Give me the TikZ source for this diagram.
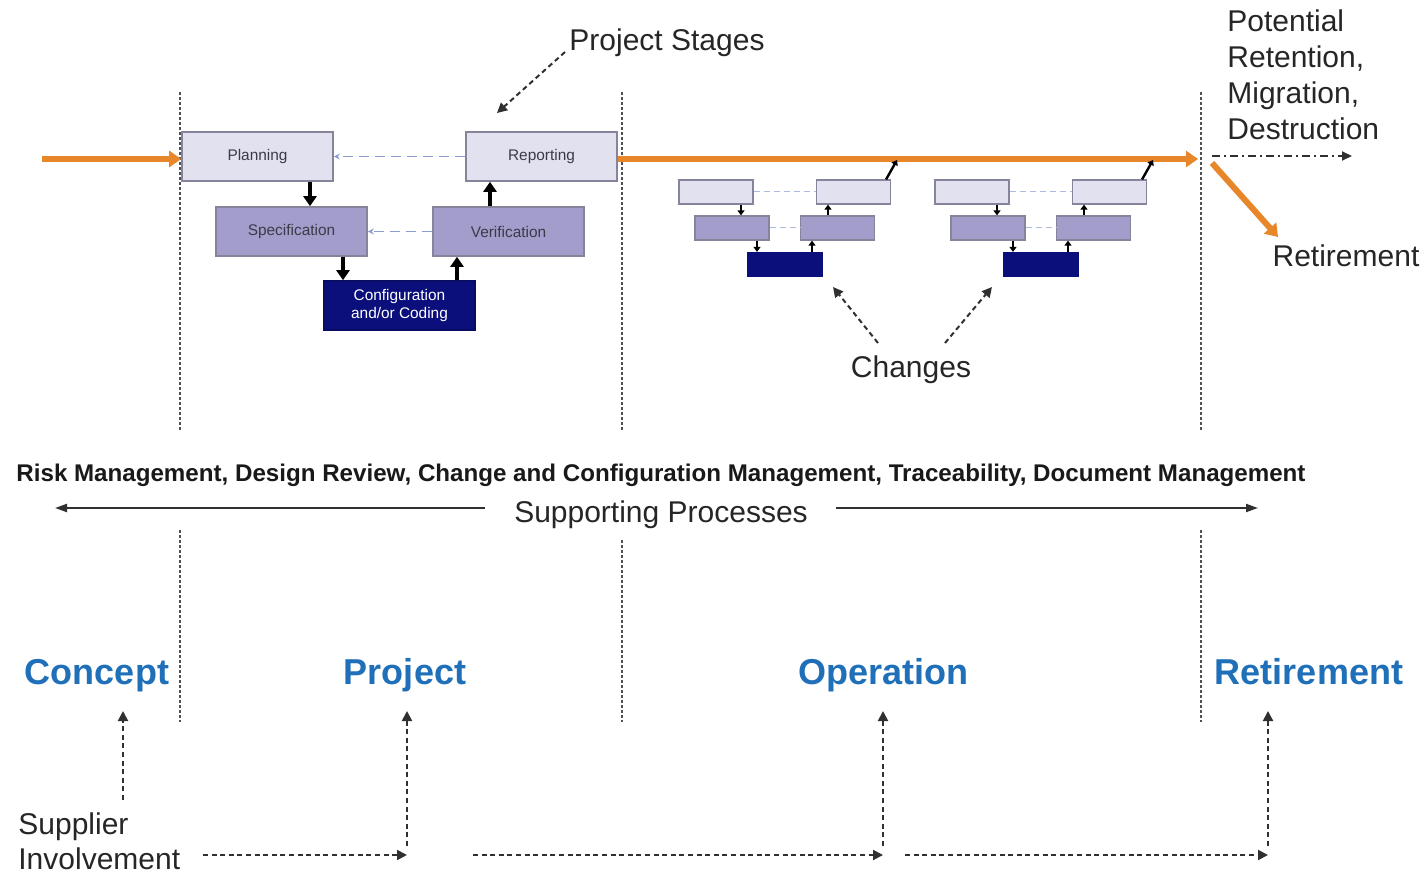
\documentclass[tikz,border=0pt]{standalone}
\usepackage{fontspec}
\setmainfont{Liberation Sans}
\usetikzlibrary{arrows.meta,calc}
\definecolor{orng}{HTML}{E8872A}
\definecolor{lightfill}{HTML}{E2E1EF}
\definecolor{midfill}{HTML}{A39DCB}
\definecolor{navyfill}{HTML}{0B0F7C}
\definecolor{boxgray}{HTML}{85849A}
\definecolor{textgray}{HTML}{3A3A4A}
\definecolor{dashblue}{HTML}{8C9BD2}
\definecolor{divgray}{HTML}{505050}
\definecolor{dkgray}{HTML}{303030}
\definecolor{stageblue}{HTML}{1F70B8}
\begin{document}
\begin{tikzpicture}[x=0.5pt,y=-0.5pt,
  bigbox/.style={draw=boxgray, line width=0.8pt, minimum width=75.5pt, minimum height=24.5pt, inner sep=0pt, font=\fontsize{7.7}{9}\selectfont, text=textgray, align=center},
  lightbox/.style={bigbox, fill=lightfill},
  midbox/.style={bigbox, fill=midfill},
  navybox/.style={bigbox, fill=navyfill, draw=navyfill!80!black, text=white},
  smallbox/.style={draw=boxgray, line width=0.6pt, minimum width=37pt, minimum height=12pt, inner sep=0pt},
  slight/.style={smallbox, fill=lightfill},
  smid/.style={smallbox, fill=midfill},
  snavy/.style={smallbox, fill=navyfill, draw=navyfill},
  thickarr/.style={draw=black, line width=1.8pt, -{Triangle[length=5pt,width=6.5pt]}},
  smallarr/.style={draw=black, line width=0.9pt, -{Triangle[length=2.5pt,width=3.5pt]}},
  bluedash/.style={draw=dashblue, line width=0.8pt, dash pattern=on 5pt off 3pt, -{Stealth[length=3pt,width=3pt]}},
  bluedashline/.style={draw=dashblue!70, line width=0.5pt, dash pattern=on 3pt off 2pt},
  orangearr/.style={draw=orng, line width=3pt, -{Triangle[length=6pt,width=8pt]}},
  divider/.style={draw=divgray, line width=0.9pt, dash pattern=on 1.5pt off 1pt},
  blkdot/.style={draw=dkgray, line width=1pt, dash pattern=on 2.5pt off 1.8pt, -{Triangle[length=5pt,width=5pt]}},
  suparr/.style={draw=dkgray, line width=1pt, -{Triangle[length=6pt,width=4pt]}},
  lbl/.style={font=\fontsize{15}{18}\selectfont, text=black!85, inner sep=0pt},
  stage/.style={font=\fontsize{18}{21}\selectfont\bfseries, text=stageblue, inner sep=0pt, anchor=base}
]
\useasboundingbox (0,0) rectangle (1424,877);
\fill[white] (0,0) rectangle (1424,877);

% dividers
\foreach \x/\yb in {180/530,622/540,1201/530}{
  \draw[divider] (\x,92) -- (\x,430);
  \draw[divider] (\x,\yb) -- (\x,722);
}

% main project boxes
\node[lightbox] (plan) at (257.5,156.5) {Planning};
\node[lightbox] (rep) at (541.5,156.5) {Reporting};
\node[midbox] (spec) at (291.5,231.5) {Specification};
\node[midbox] (ver) at (508.5,231.5) {Verification};
\node[navybox] (conf) at (399.5,305.5) {Configuration\\and/or Coding};

\draw[thickarr] (plan.south -| 310,0) -- (spec.north -| 310,0);
\draw[thickarr] (spec.south -| 343,0) -- (conf.north -| 343,0);
\draw[thickarr] (conf.north -| 457,0) -- (ver.south -| 457,0);
\draw[thickarr] (ver.north -| 490,0) -- (rep.south -| 490,0);
\draw[bluedash] (rep.west) -- (plan.east);
\draw[bluedash] (ver.west) -- (spec.east);

% orange flow
\coordinate (oin) at (42,159);
\coordinate (oend) at (1198,159);
\coordinate (rstart) at (1212,163);
\coordinate (rend) at (1278,237);
\draw[orangearr] (oin) -- (plan.west |- oin);
\draw[orangearr] (rep.east |- oin) -- (oend);
\draw[orangearr] (rstart) -- (rend);
\coordinate (pstart) at (1212,156);
\coordinate (pend) at (1352,156);
\draw[draw=dkgray, line width=0.9pt, dash pattern=on 4pt off 2pt on 1pt off 2pt, -{Triangle[length=5pt,width=4.5pt]}] (pstart) -- (pend);

% change groups
\foreach \g/\dx in {a/0,b/256}{
  \node[slight] (tl\g) at (716+\dx,192) {};
  \node[slight] (tr\g) at (853.5+\dx,192) {};
  \node[smid] (ml\g) at (732+\dx,228) {};
  \node[smid] (mr\g) at (837.5+\dx,228) {};
  \node[snavy] (bt\g) at (785+\dx,264.5) {};
  \draw[smallarr] (tl\g.south -| 741+\dx,0) -- (ml\g.north -| 741+\dx,0);
  \draw[smallarr] (ml\g.south -| 757+\dx,0) -- (bt\g.north -| 757+\dx,0);
  \draw[smallarr] (bt\g.north -| 812+\dx,0) -- (mr\g.south -| 812+\dx,0);
  \draw[smallarr] (mr\g.north -| 828+\dx,0) -- (tr\g.south -| 828+\dx,0);
  \draw[bluedashline] (tl\g.east) -- (tr\g.west);
  \draw[bluedashline] (ml\g.east) -- (mr\g.west);
  \coordinate (up\g) at (897+\dx,160);
  \draw[smallarr, line width=1.2pt] ([xshift=-2.5pt]tr\g.north east) -- (up\g);
}

% labels top
\node[lbl] (ps) at (667,43) {Project Stages};
\coordinate (psa) at (565,52);
\coordinate (psb) at (497,113);
\draw[blkdot] (psa) -- (psb);
\node[lbl] (chg) at (911,370) {Changes};
\coordinate (ch1a) at (878,343);
\coordinate (ch1b) at (833,287);
\coordinate (ch2a) at (945,343);
\coordinate (ch2b) at (992,287);
\draw[blkdot] (ch1a) -- (ch1b);
\draw[blkdot] (ch2a) -- (ch2b);
\node[lbl, align=left, anchor=north west] (pot) at (1227,9) {Potential\\Retention,\\Migration,\\Destruction};
\node[lbl] (ret) at (1346,256) {Retirement};

% supporting processes
\node[inner sep=0pt] (risk) at (661,475) {\resizebox{644.5pt}{!}{\fontsize{10}{12}\selectfont\bfseries\color{black!90}Risk Management, Design Review, Change and Configuration Management, Traceability, Document Management}};
\node[lbl] (sp) at (661,515) {Supporting Processes};
\coordinate (sl1) at (485,508);
\coordinate (sl2) at (55,508);
\coordinate (sr1) at (836,508);
\coordinate (sr2) at (1258,508);
\draw[suparr] (sl1) -- (sl2);
\draw[suparr] (sr1) -- (sr2);

% stages
\node[stage] (concept) at (97,684) {Concept};
\node[stage] (project) at (405,684) {Project};
\node[stage] (operation) at (883,684) {Operation};
\node[stage] (retire) at (1309,684) {Retirement};

% supplier involvement
\node[lbl, align=left, anchor=north west, font=\fontsize{15}{17.5}\selectfont] (sup) at (18,812) {Supplier\\Involvement};
\coordinate (c0) at (123,800);
\coordinate (c1) at (123,711);
\draw[blkdot] (c0) -- (c1);
\coordinate (h1a) at (203,855);
\coordinate (h1b) at (407,855);
\coordinate (v1) at (407,846);
\coordinate (v1e) at (407,711);
\draw[blkdot] (h1a) -- (h1b);
\draw[blkdot] (v1) -- (v1e);
\coordinate (h2a) at (473,855);
\coordinate (h2b) at (883,855);
\coordinate (v2) at (883,846);
\coordinate (v2e) at (883,711);
\draw[blkdot] (h2a) -- (h2b);
\draw[blkdot] (v2) -- (v2e);
\coordinate (h3a) at (905,855);
\coordinate (h3b) at (1268,855);
\coordinate (v3) at (1268,846);
\coordinate (v3e) at (1268,711);
\draw[blkdot] (h3a) -- (h3b);
\draw[blkdot] (v3) -- (v3e);
\end{tikzpicture}
\end{document}
